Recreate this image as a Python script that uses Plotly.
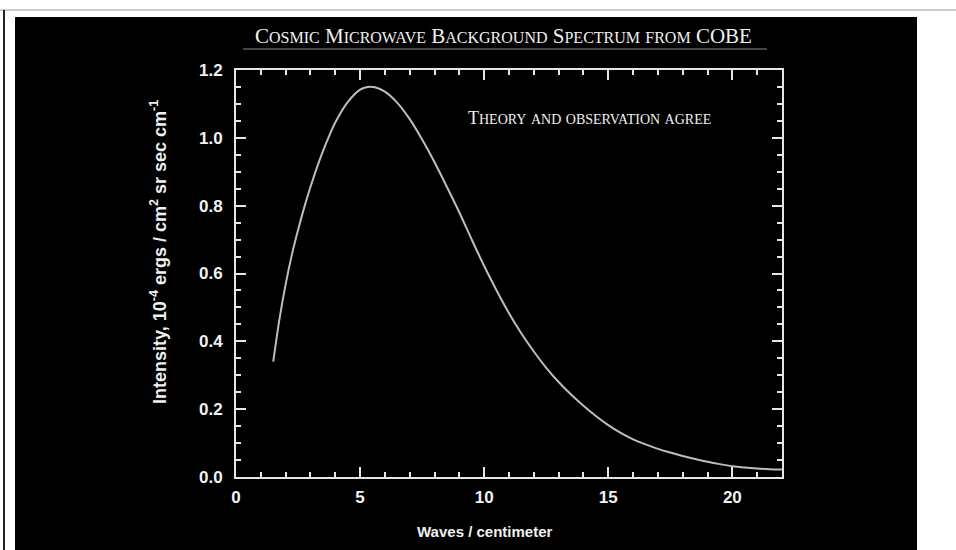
import plotly.graph_objects as go

# Cosmic microwave background spectrum (COBE)
wavenumber = [1.5, 1.75, 2.0, 2.25, 2.5, 2.75, 3.0, 3.25, 3.5, 3.75, 4.0, 4.5,
              5.0, 5.3, 5.6, 6.0, 6.5, 7.0, 7.5, 8.0, 8.5, 9.0, 9.5, 10.0,
              10.5, 11.0, 11.5, 12.0, 12.5, 13.0, 13.5, 14.0, 14.5, 15.0, 15.5,
              16.0, 16.5, 17.0, 17.5, 18.0, 18.5, 19.0, 19.5, 20.0, 20.5, 21.0,
              21.5, 22.0]
intensity = [0.34, 0.465, 0.568, 0.655, 0.728, 0.795, 0.855, 0.91, 0.96, 1.005,
             1.045, 1.105, 1.142, 1.150, 1.149, 1.136, 1.103, 1.055, 0.995,
             0.928, 0.855, 0.78, 0.70, 0.622, 0.55, 0.483, 0.423, 0.37, 0.322,
             0.28, 0.243, 0.21, 0.180, 0.153, 0.130, 0.111, 0.096, 0.083, 0.072,
             0.062, 0.053, 0.045, 0.038, 0.032, 0.028, 0.025, 0.023, 0.022]

x_ticks = [0, 5, 10, 15, 20]
y_ticks = [0.0, 0.2, 0.4, 0.6, 0.8, 1.0, 1.2]
y_tick_text = ["0.0", "0.2", "0.4", "0.6", "0.8", "1.0", "1.2"]

# Plot-area geometry in page pixels
W, H = 956, 550
L, R, T, B = 236, 782, 70, 477


def px(x):
    return (x - L) / (R - L)


def py(y):
    return (B - y) / (B - T)


def small_caps(text, small):
    """Capitals stay full size; lowercase letters become small capitals."""
    out, run = [], ""
    for ch in text:
        if ch.islower():
            run += ch.upper()
        else:
            if run:
                out.append(f"<span style='font-size:{small}px'>{run}</span>")
                run = ""
            out.append(ch)
    if run:
        out.append(f"<span style='font-size:{small}px'>{run}</span>")
    return "".join(out)


AXIS = "#e6e6e6"
SANS = "Liberation Sans, Arial, sans-serif"
SERIF = "Liberation Serif, Times New Roman, serif"

fig = go.Figure()
fig.add_trace(go.Scatter(
    x=wavenumber, y=intensity, mode="lines",
    line=dict(color="#bdbdbd", width=2, shape="spline", smoothing=0.8),
    hoverinfo="skip", showlegend=False,
))

axis_common = dict(
    showline=True, linecolor=AXIS, linewidth=2, mirror="ticks",
    ticks="inside", tickcolor=AXIS, tickwidth=2, ticklen=10,
    showgrid=False, zeroline=False,
    tickfont=dict(family=SANS, size=17, color="#f2f2f2", weight="bold"),
)

fig.update_xaxes(
    range=[0, 22], tickvals=x_ticks, ticklabelstandoff=4,
    minor=dict(dtick=1, ticks="inside", ticklen=5, tickwidth=2, tickcolor=AXIS),
    **axis_common,
)
fig.update_yaxes(
    range=[0, 1.2], tickvals=y_ticks, ticktext=y_tick_text, ticklabelstandoff=8,
    minor=dict(dtick=0.05, ticks="inside", ticklen=5, tickwidth=2, tickcolor=AXIS),
    **axis_common,
)

shapes = [
    # black panel behind the chart
    dict(type="rect", xref="paper", yref="paper", layer="below",
         x0=px(15), x1=px(917), y0=py(550), y1=py(17),
         fillcolor="black", line=dict(width=0)),
    # page rule along the top
    dict(type="line", xref="paper", yref="paper",
         x0=px(0), x1=px(956), y0=py(10), y1=py(10),
         line=dict(color="#9a9a9a", width=1)),
    # page rule down the left side
    dict(type="line", xref="paper", yref="paper",
         x0=px(4), x1=px(4), y0=py(10), y1=py(550),
         line=dict(color="#222222", width=2)),
    # underline beneath the heading
    dict(type="line", xref="paper", yref="paper",
         x0=px(243), x1=px(767), y0=py(49), y1=py(49),
         line=dict(color="#8a8a8a", width=1)),
]

annotations = [
    dict(text=small_caps("Cosmic Microwave Background Spectrum from COBE", 16),
         x=px(503), y=py(36), xref="paper", yref="paper", showarrow=False,
         xanchor="center", yanchor="middle",
         font=dict(family=SERIF, size=21, color="#f0f0f0")),
    dict(text=small_caps("Theory and observation agree", 14),
         x=px(589), y=py(118), xref="paper", yref="paper", showarrow=False,
         xanchor="center", yanchor="middle",
         font=dict(family=SERIF, size=18, color="#f0f0f0")),
    dict(text="Waves / centimeter",
         x=px(485), y=py(531), xref="paper", yref="paper", showarrow=False,
         xanchor="center", yanchor="middle",
         font=dict(family=SANS, size=15, color="#f0f0f0", weight="bold")),
    dict(text="Intensity, 10<sup>-4</sup> ergs / cm<sup>2</sup> sr sec cm<sup>-1</sup>",
         x=px(158), y=py(252), xref="paper", yref="paper", showarrow=False,
         textangle=-90, xanchor="center", yanchor="middle",
         font=dict(family=SANS, size=18, color="#f0f0f0", weight="bold")),
]

fig.update_layout(
    width=W, height=H,
    margin=dict(l=L, r=W - R, t=T, b=H - B, pad=0),
    paper_bgcolor="white", plot_bgcolor="black",
    shapes=shapes, annotations=annotations,
    showlegend=False,
)

fig.write_html("out.html", config={"displayModeBar": False})
